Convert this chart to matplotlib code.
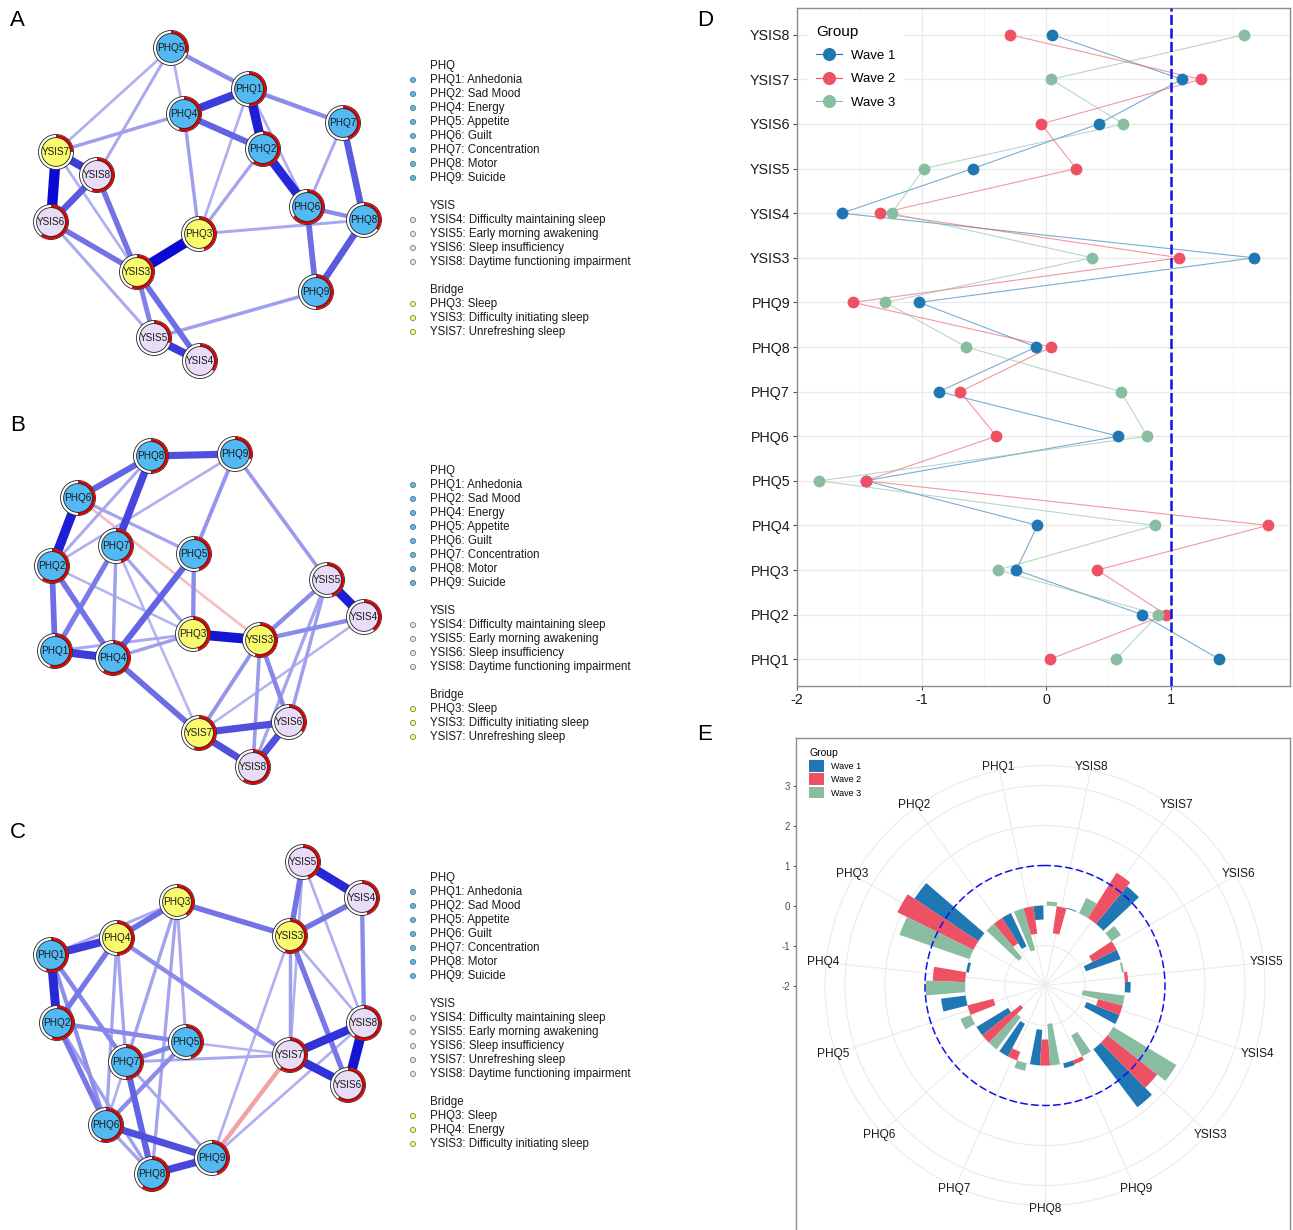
"""
Symptom networks (A-C), centrality plot (D) and polar bar chart (E).
"""
import numpy as np
import matplotlib
matplotlib.use("Agg")
import matplotlib.pyplot as plt
from matplotlib.patches import Circle, Wedge, Patch
from matplotlib.lines import Line2D

plt.rcParams["font.family"] = ["Liberation Sans", "DejaVu Sans"]
plt.rcParams["axes.unicode_minus"] = False

W, H = 1293, 1230

# ---------DATA------------
items = ["PHQ1", "PHQ2", "PHQ3", "PHQ4", "PHQ5", "PHQ6", "PHQ7", "PHQ8", "PHQ9",
         "YSIS3", "YSIS4", "YSIS5", "YSIS6", "YSIS7", "YSIS8"]
waves = ["Wave 1", "Wave 2", "Wave 3"]
wave_colors = ["#1F77B4", "#EE5064", "#88BDA2"]

# panel D: centrality z-scores
d_wave1 = [1.39, 0.77, -0.24, -0.07, -1.45, 0.58, -0.86, -0.08, -1.02, 1.67, -1.64, -0.59, 0.42, 1.09, 0.05]
d_wave2 = [0.03, 0.96, 0.41, 1.78, -1.45, -0.40, -0.69, 0.04, -1.55, 1.07, -1.33, 0.24, -0.04, 1.24, -0.29]
d_wave3 = [0.56, 0.90, -0.39, 0.87, -1.82, 0.81, 0.60, -0.64, -1.29, 0.37, -1.24, -0.98, 0.62, 0.04, 1.59]

# panel E: bridge centrality z-scores
e_wave1 = [-0.35, -0.92, 1.92, -0.07, 0.62, -0.92, -0.92, -0.89, 0.12, 1.82, -0.88, 0.14, -0.92, 1.22, 0.02]
e_wave2 = [-0.69, -0.75, 2.12, 0.81, -0.67, -1.22, -0.23, -0.65, 0.10, 1.58, -0.63, 0.08, -0.68, 1.34, -0.68]
e_wave3 = [-1.08, -1.10, 1.85, 0.98, 0.27, -1.00, 0.19, -1.04, -0.59, 1.84, -1.05, -0.05, 0.28, 0.42, 0.10]

desc = {
    "PHQ1": "Anhedonia", "PHQ2": "Sad Mood", "PHQ3": "Sleep", "PHQ4": "Energy",
    "PHQ5": "Appetite", "PHQ6": "Guilt", "PHQ7": "Concentration", "PHQ8": "Motor",
    "PHQ9": "Suicide", "YSIS3": "Difficulty initiating sleep",
    "YSIS4": "Difficulty maintaining sleep", "YSIS5": "Early morning awakening",
    "YSIS6": "Sleep insufficiency", "YSIS7": "Unrefreshing sleep",
    "YSIS8": "Daytime functioning impairment",
}

# network layouts (panel pixel units)
layout_a = {"PHQ5": (171, 48), "PHQ1": (249, 89), "PHQ4": (184, 114), "PHQ7": (343, 123),
            "PHQ2": (263, 149), "YSIS7": (56, 152), "YSIS8": (97, 175), "YSIS6": (51, 222),
            "PHQ6": (307, 207), "PHQ8": (364, 220), "PHQ3": (199, 234), "YSIS3": (137, 272),
            "PHQ9": (316, 292), "YSIS5": (154, 338), "YSIS4": (200, 361)}
layout_b = {"PHQ8": (151, 51), "PHQ9": (235, 49), "PHQ6": (78, 93), "PHQ7": (116, 141),
            "PHQ5": (194, 149), "PHQ2": (52, 161), "YSIS5": (327, 175), "YSIS4": (364, 212),
            "PHQ3": (193, 229), "YSIS3": (260, 235), "PHQ1": (55, 246), "PHQ4": (113, 253),
            "YSIS6": (289, 317), "YSIS7": (199, 328), "YSIS8": (253, 362)}
layout_c = {"YSIS5": (303, 50), "YSIS4": (362, 86), "PHQ3": (177, 90), "YSIS3": (290, 124),
            "PHQ4": (117, 126), "PHQ1": (51, 143), "YSIS8": (364, 211), "PHQ2": (57, 211),
            "PHQ5": (186, 230), "PHQ7": (126, 250), "YSIS7": (290, 243), "YSIS6": (348, 273),
            "PHQ6": (106, 313), "PHQ9": (212, 346), "PHQ8": (152, 362)}

# predictability (red arc share)
pred_a = {"PHQ5": 0.3, "PHQ1": 0.5, "PHQ4": 0.55, "PHQ7": 0.45, "PHQ2": 0.6, "YSIS7": 0.25,
          "YSIS8": 0.55, "YSIS6": 0.6, "PHQ6": 0.65, "PHQ8": 0.35, "PHQ3": 0.45, "YSIS3": 0.55,
          "PHQ9": 0.5, "YSIS5": 0.3, "YSIS4": 0.35}
pred_b = {"PHQ8": 0.5, "PHQ9": 0.3, "PHQ6": 0.5, "PHQ7": 0.45, "PHQ5": 0.45, "PHQ2": 0.6,
          "YSIS5": 0.45, "YSIS4": 0.4, "PHQ3": 0.45, "YSIS3": 0.55, "PHQ1": 0.55, "PHQ4": 0.6,
          "YSIS6": 0.35, "YSIS7": 0.55, "YSIS8": 0.6}
pred_c = {"YSIS5": 0.45, "YSIS4": 0.45, "PHQ3": 0.4, "YSIS3": 0.55, "PHQ4": 0.5, "PHQ1": 0.55,
          "YSIS8": 0.6, "PHQ2": 0.55, "PHQ5": 0.45, "PHQ7": 0.5, "YSIS7": 0.6, "YSIS6": 0.6,
          "PHQ6": 0.55, "PHQ9": 0.45, "PHQ8": 0.6}

edges_a = [("PHQ1", "PHQ2", 0.85), ("PHQ2", "PHQ6", 0.8), ("PHQ1", "PHQ4", 0.7), ("PHQ4", "PHQ2", 0.5),
           ("PHQ5", "PHQ1", 0.3), ("PHQ1", "PHQ7", 0.3), ("PHQ7", "PHQ8", 0.55), ("PHQ8", "PHQ9", 0.55),
           ("PHQ6", "PHQ9", 0.45), ("PHQ6", "PHQ8", 0.3), ("PHQ7", "PHQ6", 0.15), ("PHQ1", "PHQ6", 0.12),
           ("PHQ3", "PHQ8", 0.15), ("PHQ3", "PHQ4", 0.2), ("PHQ3", "PHQ1", 0.12), ("PHQ3", "PHQ2", 0.18),
           ("PHQ3", "YSIS3", 0.95), ("YSIS7", "YSIS6", 0.95), ("YSIS7", "YSIS8", 0.7), ("YSIS8", "YSIS6", 0.55),
           ("YSIS6", "YSIS3", 0.42), ("YSIS8", "YSIS3", 0.42), ("YSIS7", "YSIS3", 0.12), ("YSIS3", "YSIS5", 0.35),
           ("YSIS3", "YSIS4", 0.45), ("YSIS5", "YSIS4", 0.7), ("YSIS6", "YSIS5", 0.15), ("YSIS5", "PHQ9", 0.2),
           ("YSIS7", "PHQ5", 0.12), ("YSIS7", "PHQ4", 0.2), ("YSIS8", "PHQ5", 0.15), ("PHQ5", "PHQ4", 0.12)]
edges_b = [("PHQ8", "PHQ9", 0.6), ("PHQ8", "PHQ6", 0.5), ("PHQ8", "PHQ7", 0.65), ("PHQ6", "PHQ2", 0.85),
           ("PHQ2", "PHQ1", 0.45), ("PHQ1", "PHQ4", 0.7), ("PHQ2", "PHQ4", 0.42), ("PHQ7", "PHQ1", 0.38),
           ("PHQ5", "PHQ4", 0.5), ("PHQ5", "PHQ3", 0.3), ("PHQ9", "PHQ5", 0.25), ("PHQ3", "YSIS3", 0.9),
           ("PHQ4", "YSIS7", 0.45), ("YSIS7", "YSIS6", 0.6), ("YSIS7", "YSIS8", 0.6), ("YSIS6", "YSIS8", 0.6),
           ("YSIS5", "YSIS4", 0.85), ("YSIS3", "YSIS5", 0.3), ("YSIS3", "YSIS4", 0.3), ("YSIS3", "YSIS6", 0.32),
           ("YSIS3", "YSIS7", 0.25), ("YSIS3", "YSIS8", 0.22), ("YSIS5", "YSIS6", 0.2), ("YSIS5", "YSIS8", 0.18),
           ("YSIS4", "YSIS7", 0.1), ("PHQ9", "YSIS5", 0.22), ("PHQ4", "PHQ3", 0.2), ("PHQ1", "PHQ3", 0.15),
           ("PHQ7", "PHQ4", 0.2), ("PHQ7", "PHQ3", 0.18), ("PHQ7", "YSIS7", 0.1), ("PHQ6", "PHQ5", 0.18),
           ("PHQ6", "YSIS3", -0.12), ("PHQ8", "PHQ2", 0.15), ("PHQ9", "PHQ2", 0.12), ("PHQ2", "PHQ3", 0.1)]
edges_c = [("YSIS5", "YSIS4", 0.8), ("YSIS5", "YSIS3", 0.42), ("YSIS4", "YSIS3", 0.42), ("YSIS4", "YSIS8", 0.3),
           ("YSIS3", "YSIS6", 0.4), ("YSIS3", "YSIS8", 0.12), ("YSIS3", "YSIS7", 0.2), ("YSIS5", "YSIS7", 0.12),
           ("YSIS5", "YSIS8", 0.12), ("YSIS7", "YSIS8", 0.75), ("YSIS7", "YSIS6", 0.75), ("YSIS8", "YSIS6", 0.9),
           ("PHQ3", "YSIS3", 0.42), ("YSIS3", "PHQ9", 0.12), ("YSIS7", "PHQ9", -0.3), ("YSIS8", "PHQ9", 0.12),
           ("PHQ4", "YSIS7", 0.3), ("PHQ5", "YSIS7", 0.1), ("PHQ7", "YSIS7", 0.15), ("PHQ3", "PHQ4", 0.45),
           ("PHQ3", "PHQ1", 0.15), ("PHQ1", "PHQ4", 0.7), ("PHQ1", "PHQ2", 0.8), ("PHQ4", "PHQ2", 0.4),
           ("PHQ1", "PHQ7", 0.32), ("PHQ1", "PHQ6", 0.28), ("PHQ2", "PHQ6", 0.4), ("PHQ2", "PHQ8", 0.2),
           ("PHQ2", "PHQ5", 0.32), ("PHQ4", "PHQ7", 0.18), ("PHQ4", "PHQ6", 0.18), ("PHQ3", "PHQ7", 0.18),
           ("PHQ3", "PHQ5", 0.15), ("PHQ3", "PHQ8", 0.18), ("PHQ3", "PHQ6", 0.12), ("PHQ7", "PHQ5", 0.35),
           ("PHQ5", "PHQ6", 0.3), ("PHQ7", "PHQ8", 0.5), ("PHQ7", "PHQ9", 0.15), ("PHQ6", "PHQ9", 0.6),
           ("PHQ8", "PHQ9", 0.65), ("PHQ6", "PHQ8", 0.18)]

bridge_a = ["PHQ3", "YSIS3", "YSIS7"]
bridge_b = ["PHQ3", "YSIS3", "YSIS7"]
bridge_c = ["PHQ3", "PHQ4", "YSIS3"]

COL_PHQ, COL_YSIS, COL_BRIDGE = "#53B9F2", "#E8DCF7", "#FAFA6E"
R_OUT, R_IN = 17.5, 14.4


def fig_box(left, top, width, height):
    return [left / W, 1 - (top + height) / H, width / W, height / H]


def node_fill(name, bridge):
    if name in bridge:
        return COL_BRIDGE
    return COL_PHQ if name.startswith("PHQ") else COL_YSIS


def edge_color(w):
    a = 0.22 + 0.78 * abs(w)
    base = np.array([0.0, 0.0, 0.82]) if w > 0 else np.array([0.88, 0.2, 0.2])
    return tuple(1 - a * (1 - base))


# ---------NETWORKS------------
def draw_network(top, letter, layout, edges, pred, bridge):
    ax = fig.add_axes(fig_box(0, top, 660, 405))
    ax.set_xlim(0, 660)
    ax.set_ylim(405, 0)
    ax.axis("off")
    ax.text(10, 20, letter, fontsize=16, va="center", ha="left")

    for a, b, w in sorted(edges, key=lambda e: abs(e[2])):
        (xa, ya), (xb, yb) = layout[a], layout[b]
        ax.plot([xa, xb], [ya, yb], color=edge_color(w), lw=(1.6 + 9.2 * abs(w)) * 0.72,
                solid_capstyle="butt", zorder=1)

    for name, (x, y) in layout.items():
        ax.add_patch(Circle((x, y), R_OUT, fc="white", ec="#222222", lw=0.6, zorder=3))
        ax.add_patch(Wedge((x, y), R_OUT - 0.3, -90, -90 + 360 * pred[name], width=R_OUT - R_IN,
                           fc="#E00000", ec="none", zorder=4))
        ax.add_patch(Circle((x, y), R_IN, fc=node_fill(name, bridge), ec="#222222", lw=0.6, zorder=5))
        ax.text(x, y, name, ha="center", va="center", fontsize=7.2, color="#1A1A1A", zorder=6)

    # legend
    groups = [("PHQ", [n for n in items if n.startswith("PHQ") and n not in bridge]),
              ("YSIS", [n for n in items if n.startswith("YSIS") and n not in bridge]),
              ("Bridge", bridge)]
    y = 66
    for header, names in groups:
        ax.text(430, y, header, fontsize=8.3, va="center", color="#1A1A1A")
        y += 14
        for n in names:
            ax.add_patch(Circle((413, y), 2.6, fc=node_fill(n, bridge), ec="#444444", lw=0.4))
            ax.text(430, y, f"{n}: {desc[n]}", fontsize=8.3, va="center", color="#1A1A1A")
            y += 14
        y += 14


fig = plt.figure(figsize=(W / 100, H / 100), dpi=100)

draw_network(0, "A", layout_a, edges_a, pred_a, bridge_a)
draw_network(405, "B", layout_b, edges_b, pred_b, bridge_b)
draw_network(812, "C", layout_c, edges_c, pred_c, bridge_c)

# ---------PANEL D------------
axd = fig.add_axes(fig_box(797, 8, 493, 678))
ypos = np.arange(1, len(items) + 1)
for vals, col, lab in zip([d_wave1, d_wave2, d_wave3], wave_colors, waves):
    axd.plot(vals, ypos, color=col, lw=0.8, alpha=0.6, zorder=2)
    axd.scatter(vals, ypos, s=72, color=col, zorder=3, linewidths=0)
axd.axvline(1, color="#1010F0", lw=1.8, dashes=(4, 1.4), zorder=4)
axd.set_xlim(-2, 1.957)
axd.set_ylim(0.4, 15.6)
axd.set_yticks(ypos)
axd.set_yticklabels(items)
axd.set_xticks([-2, -1, 0, 1])
axd.set_xticklabels(["-2", "-1", "0", "1"])
axd.set_xticks([-1.5, -0.5, 0.5, 1.5], minor=True)
axd.tick_params(axis="both", which="major", labelsize=10.3, labelcolor="#1A1A1A",
                color="#555555", length=3, width=0.8, pad=2)
axd.tick_params(axis="x", which="minor", length=0)
axd.grid(which="major", color="#EBEBEB", lw=1.0)
axd.grid(which="minor", axis="x", color="#F3F3F3", lw=0.6)
axd.set_axisbelow(True)
for s in axd.spines.values():
    s.set_color("#8C8C8C")
    s.set_linewidth(1.0)
handles = [Line2D([], [], color=c, marker="o", markersize=8.4, lw=0.8, alpha=1) for c in wave_colors]
leg = axd.legend(handles, waves, title="Group", loc="upper left", bbox_to_anchor=(0.01, 0.997),
                 fontsize=9.5, title_fontsize=11, frameon=True, handlelength=1.9, labelspacing=0.85,
                 borderpad=0.6, handletextpad=0.7)
leg.get_frame().set_facecolor("white")
leg.get_frame().set_edgecolor("white")
leg.get_frame().set_alpha(1)
leg._legend_box.align = "left"
fig.text(697 / W, 1 - 20 / H, "D", fontsize=16, va="center", ha="left")

# ---------PANEL E------------
cx, cy, ppu, rmin, rmax = 1045, 985.5, 40, -2, 3.5
box_left, box_top, box_right = 796, 737.6, 1290
axe_frame = fig.add_axes(fig_box(box_left, box_top, box_right - box_left, H - box_top))
axe_frame.set_ylim((cy - H) / ppu + rmin, (cy - box_top) / ppu + rmin)
axe_frame.set_xticks([])
axe_frame.set_yticks([-2, -1, 0, 1, 2, 3])
axe_frame.tick_params(axis="y", labelsize=7, labelcolor="#4D4D4D", color="#555555", length=2.5, pad=2)
for name, s in axe_frame.spines.items():
    s.set_color("#8C8C8C")
    s.set_linewidth(1.0)
axe_frame.spines["bottom"].set_visible(False)
patches = [Patch(facecolor=c, edgecolor="none") for c in wave_colors]
leg_e = axe_frame.legend(patches, waves, title="Group", loc="upper left", bbox_to_anchor=(0.01, 0.995),
                         fontsize=6.5, title_fontsize=7.5, frameon=False, handlelength=1.6,
                         handleheight=1.6, labelspacing=0.2, handletextpad=0.8)
leg_e._legend_box.align = "left"

rad = (rmax - rmin) * ppu
axe = fig.add_axes(fig_box(cx - rad, cy - rad, 2 * rad, 2 * rad), projection="polar")
axe.patch.set_visible(False)
axe.set_theta_zero_location("N")
axe.set_theta_direction(1)
axe.set_rlim(rmin, rmax)
step = 2 * np.pi / len(items)
theta = step / 2 + step * np.arange(len(items))
bw = step * 0.3
for k, (vals, col) in enumerate(zip([e_wave1, e_wave2, e_wave3], wave_colors)):
    axe.bar(theta + (k - 1) * bw, vals, width=bw, bottom=0, color=col, edgecolor="none", zorder=3)
ring = np.linspace(0, 2 * np.pi, 400)
axe.plot(ring, np.ones_like(ring), color="#1010F0", lw=1.1, dashes=(5, 2.2), zorder=4)
axe.set_xticks(theta)
axe.set_xticklabels([])
axe.set_yticks([-1, 0, 1, 2, 3])
axe.set_yticklabels([])
axe.grid(color="#EBEBEB", lw=0.8)
axe.spines["polar"].set_color("#EBEBEB")
axe.spines["polar"].set_linewidth(0.8)
axe.tick_params(length=0)
for t, lab in zip(theta, items):
    axe.text(t, 3.58, lab, ha="center", va="center", fontsize=8.6, color="#1A1A1A",
             clip_on=False, zorder=5)
fig.text(697 / W, 1 - 735 / H, "E", fontsize=16, va="center", ha="left")

fig.savefig("out.png", dpi=100)
